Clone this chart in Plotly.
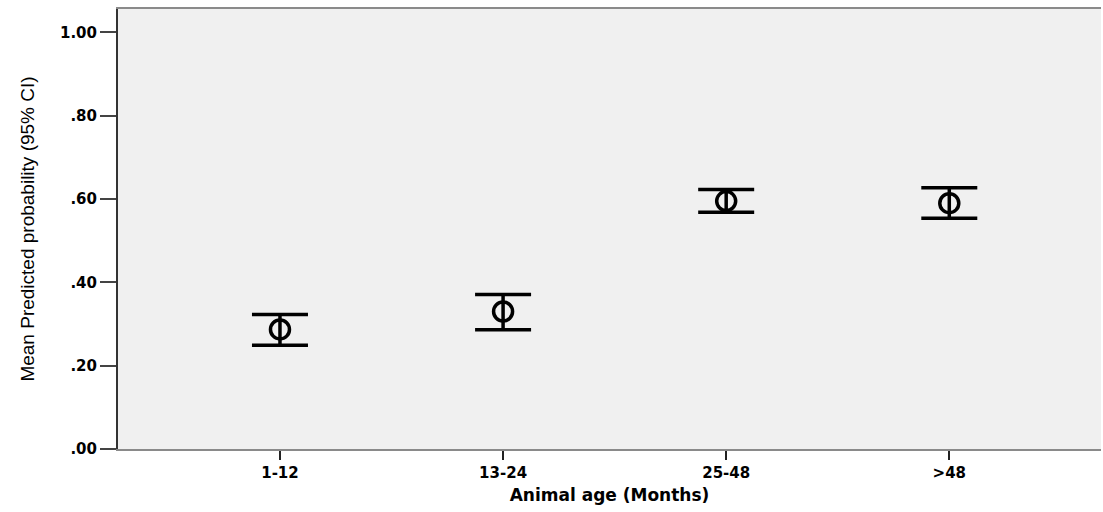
import plotly.graph_objects as go

categories = ["1-12", "13-24", "25-48", ">48"]
means = [0.287, 0.330, 0.595, 0.590]
upper = [0.323, 0.371, 0.623, 0.627]
lower = [0.249, 0.286, 0.568, 0.554]
ytick_vals = [0.0, 0.2, 0.4, 0.6, 0.8, 1.0]
ytick_text = [".00", ".20", ".40", ".60", ".80", "1.00"]

err_plus = [u - m for u, m in zip(upper, means)]
err_minus = [m - l for m, l in zip(means, lower)]
xpos = list(range(len(categories)))

fig = go.Figure()
fig.add_trace(go.Scatter(
    x=xpos, y=means, mode="markers",
    marker=dict(symbol="circle-open", size=19, color="black", line=dict(width=3.5, color="black")),
    error_y=dict(type="data", symmetric=False, array=err_plus, arrayminus=err_minus,
                 thickness=3.5, width=28, color="black"),
    showlegend=False,
    hoverinfo="skip",
))

tickfont = dict(family="DejaVu Sans, Liberation Sans", size=15, color="black", weight="bold")
fig.update_layout(
    width=1103, height=512,
    margin=dict(l=118, r=2, t=9, b=63),
    paper_bgcolor="white", plot_bgcolor="#f0f0f0",
    xaxis=dict(
        tickmode="array", tickvals=xpos, ticktext=categories,
        range=[-0.726, 3.68], showgrid=False, zeroline=False,
        showline=True, linecolor="#8a8a8a", linewidth=2, mirror=True,
        ticks="outside", ticklen=9, tickwidth=2, tickcolor="#222",
        tickfont=tickfont,
        title=dict(text="Animal age (Months)", font=dict(family="DejaVu Sans, Liberation Sans", size=17, color="black", weight="bold"), standoff=8),
    ),
    yaxis=dict(
        tickmode="array", tickvals=ytick_vals, ticktext=ytick_text,
        range=[0.0, 1.056], showgrid=False, zeroline=False,
        showline=True, linecolor="#333", linewidth=2,
        ticks="outside", ticklen=16, tickwidth=2, tickcolor="#444",
        tickfont=tickfont,
        title=dict(text="Mean Predicted probability (95% CI)", font=dict(family="Liberation Sans Narrow, Arial Narrow, Liberation Sans", size=19, color="black"), standoff=20),
    ),
)

fig.write_html("out.html", config={"displayModeBar": False},
               post_script="document.body.style.margin='0';document.body.style.padding='0';")
